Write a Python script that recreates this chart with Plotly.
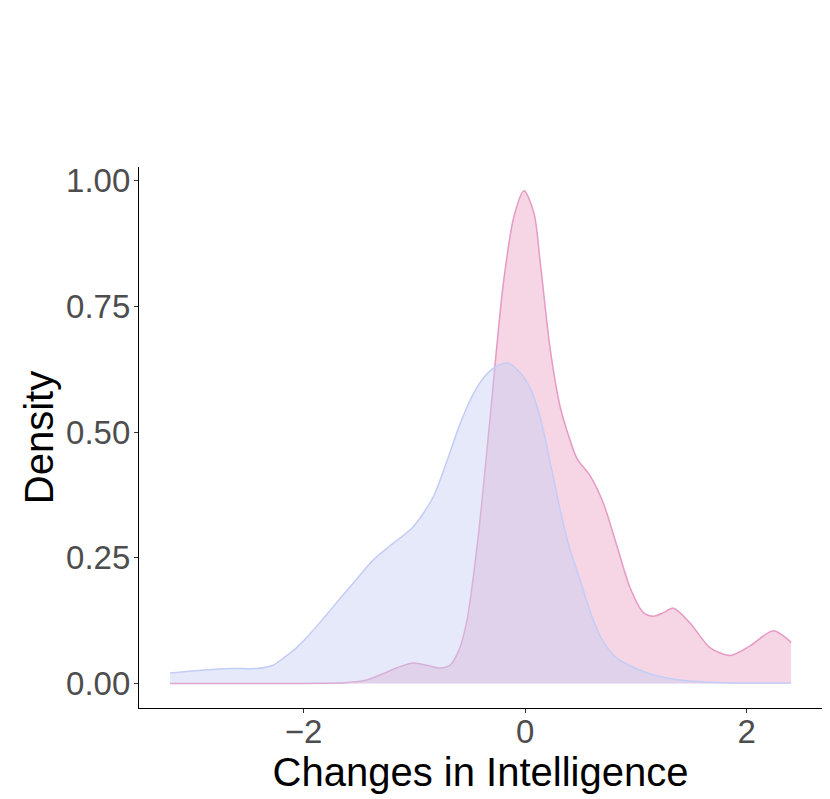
import plotly.graph_objects as go

# Density curves
blue_x = [-3.205, -2.9, -2.66, -2.42, -2.27, -2.18, -2.07, -1.97, -1.82, -1.67, -1.52, -1.37,
          -1.22, -1.01, -0.83, -0.71, -0.59, -0.47, -0.36, -0.25, -0.155, -0.045, 0.05, 0.135,
          0.226, 0.316, 0.40, 0.497, 0.6, 0.7, 0.83, 1.0, 1.13, 1.43, 1.73, 2.05, 2.40]
blue_y = [0.021, 0.027, 0.030, 0.030, 0.037, 0.051, 0.070, 0.092, 0.130, 0.169, 0.208, 0.246,
          0.274, 0.312, 0.371, 0.44, 0.515, 0.575, 0.612, 0.632, 0.637, 0.618, 0.585, 0.53,
          0.44, 0.345, 0.27, 0.205, 0.135, 0.085, 0.05, 0.03, 0.019, 0.006, 0.002, 0.001, 0.001]

pink_x = [-3.205, -2.2, -1.8, -1.6, -1.45, -1.31, -1.15, -1.01, -0.88, -0.77, -0.68, -0.6,
          -0.53, -0.43, -0.32, -0.2, -0.1, -0.01, 0.08, 0.135, 0.226, 0.316, 0.376, 0.467,
          0.587, 0.707, 0.828, 0.948, 1.068, 1.159, 1.25, 1.339, 1.49, 1.67, 1.85, 2.03,
          2.24, 2.40]
pink_y = [0.0, 0.0, 0.0005, 0.002, 0.006, 0.017, 0.032, 0.041, 0.036, 0.031, 0.036, 0.065,
          0.12, 0.28, 0.52, 0.79, 0.93, 0.98, 0.935, 0.84, 0.665, 0.55, 0.504, 0.448,
          0.413, 0.358, 0.274, 0.190, 0.141, 0.134, 0.141, 0.150, 0.120, 0.071, 0.056, 0.075,
          0.105, 0.082]

x_ticks = [-2, 0, 2]
x_tick_labels = ["\u22122", "0", "2"]
y_ticks = [0.0, 0.25, 0.5, 0.75, 1.0]
y_tick_labels = ["0.00", "0.25", "0.50", "0.75", "1.00"]

FONT = "Liberation Sans, Arial, Helvetica, sans-serif"

fig = go.Figure()
fig.add_trace(go.Scatter(
    x=pink_x, y=pink_y, mode="lines",
    line=dict(color="#e69ac4", width=1.5, shape="spline", smoothing=0.8),
    fill="tozeroy", fillcolor="rgba(232,150,190,0.40)", showlegend=False, hoverinfo="skip"))
fig.add_trace(go.Scatter(
    x=blue_x, y=blue_y, mode="lines",
    line=dict(color="#c4cdf5", width=1.5, shape="spline", smoothing=0.8),
    fill="tozeroy", fillcolor="rgba(200,206,245,0.45)", showlegend=False, hoverinfo="skip"))

fig.update_layout(
    width=822, height=791,
    margin=dict(l=131, r=8, t=159, b=91, pad=0),
    paper_bgcolor="white", plot_bgcolor="white",
    font=dict(family=FONT, color="#4d4d4d"),
)
fig.update_xaxes(
    range=[-3.485, 2.679], tickvals=x_ticks, ticktext=x_tick_labels,
    showgrid=False, zeroline=False, showline=True, linecolor="black", linewidth=1.2,
    ticks="outside", ticklen=4, tickwidth=1.1, tickcolor="#333333",
    tickfont=dict(size=33, color="#4d4d4d", family=FONT),
    ticklabelstandoff=-10,
    title=dict(text="Changes in Intelligence", font=dict(size=40, color="black", family=FONT), standoff=1),
    automargin=False,
)
fig.update_yaxes(
    range=[-0.0486, 1.0273], tickvals=y_ticks, ticktext=y_tick_labels,
    showgrid=False, zeroline=False, showline=True, linecolor="black", linewidth=1.2,
    ticks="outside", ticklen=4, tickwidth=1.1, tickcolor="#333333",
    tickfont=dict(size=33, color="#4d4d4d", family=FONT),
    ticklabelstandoff=-3,
    title=dict(text="Density", font=dict(size=40, color="black", family=FONT), standoff=0),
    automargin=False,
)

fig.write_html("out.html")
